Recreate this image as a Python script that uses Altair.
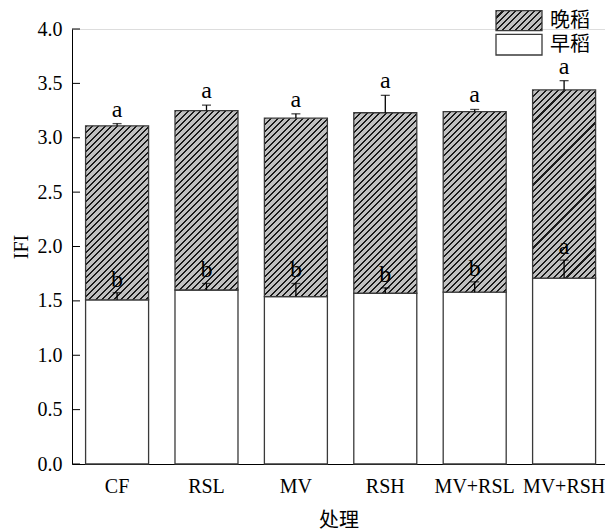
import altair as alt
import pandas as pd

# ---------------- data ----------------
treatments = ["CF", "RSL", "MV", "RSH", "MV+RSL", "MV+RSH"]
early = [1.51, 1.60, 1.54, 1.57, 1.58, 1.71]        # 早稻
late = [1.60, 1.65, 1.64, 1.66, 1.66, 1.73]         # 晚稻 (stacked on top)
early_err = [0.065, 0.06, 0.12, 0.05, 0.095, 0.165]
total_err = [0.02, 0.05, 0.04, 0.16, 0.02, 0.085]
early_letters = ["b", "b", "b", "b", "b", "a"]
late_letters = ["a", "a", "a", "a", "a", "a"]
y_ticks = [0.0, 0.5, 1.0, 1.5, 2.0, 2.5, 3.0, 3.5, 4.0]
legend_labels = ["晚稻", "早稻"]
x_title = "处理"
y_title = "IFI"

df = pd.DataFrame({
    "treat": treatments, "early": early, "late": late,
    "early_err": early_err, "total_err": total_err,
    "el": early_letters, "ll": late_letters,
})
df["total"] = df["early"] + df["late"]
df["early_top"] = df["early"] + df["early_err"]
df["total_top"] = df["total"] + df["total_err"]

# ---------------- layout / style ----------------
W, H = 533, 435
YMAX = 4.0
PI, PO, AL = 0.2953, 0.1286, 0.591
step = W / (len(treatments) - PI + 2 * PO)
bw = step * (1 - PI)
SERIF = "Liberation Serif, Noto Sans CJK SC"
STROKE = "#3a3a3a"


def hatch(w, h, period=6.3, frac=0.32, bg="#c0c0c0", fg="#1a1a1a"):
    """45-degree hatch as a linear gradient in bounding-box units."""
    k = (w + h) * w * h / (w * w + h * h)
    n = (w + h) / period
    stops = []
    i = 0
    while i < n:
        a = i / n
        b = min((i + frac) / n, 1.0)
        c = min((i + 1) / n, 1.0)
        stops += [{"offset": a, "color": fg}, {"offset": b, "color": fg},
                  {"offset": b, "color": bg}, {"offset": c, "color": bg}]
        i += 1
    return {"gradient": "linear", "x1": 0, "y1": 0, "x2": k / h, "y2": k / w,
            "stops": stops}


xenc = alt.X(
    "treat:N", sort=treatments, title=x_title,
    scale=alt.Scale(paddingInner=PI, paddingOuter=PO, align=AL),
    axis=alt.Axis(labelAngle=0, ticks=False, tickSize=0, labelPadding=12,
                  titlePadding=14, domainColor="black", domainWidth=1,
                  labelFontSize=20, titleFontSize=20, labelFont=SERIF,
                  titleFont=SERIF, titleFontWeight="normal",
                  labelColor="black", titleColor="black"),
)
yscale = alt.Scale(domain=[0, YMAX], nice=False, zero=True)
yaxis = alt.Axis(values=y_ticks, format=".1f", ticks=False, tickSize=0,
                 labelPadding=10, titlePadding=6, grid=False,
                 domainColor="black", domainWidth=1, labelFontSize=20,
                 titleFontSize=20, labelFont=SERIF, titleFont=SERIF,
                 titleFontWeight="normal", labelColor="black",
                 titleColor="black")


def Y(field):
    return alt.Y(field, type="quantitative", scale=yscale, axis=yaxis,
                 title=y_title)


base = alt.Chart(df)
layers = []

# early rice bars (white)
layers.append(base.mark_bar(fill="white", stroke=STROKE, strokeWidth=1.3)
              .encode(x=xenc, y=Y("early")))

# late rice bars (hatched), one layer per bar so the hatch is at 45 degrees
for i, t in enumerate(treatments):
    h = late[i] * H / YMAX
    layers.append(base.transform_filter(alt.datum.treat == t)
                  .mark_bar(fill=hatch(bw, h), stroke=STROKE, strokeWidth=1.3)
                  .encode(x=xenc, y=Y("early"), y2="total"))

# error bars
for lo, hi in [("early", "early_top"), ("total", "total_top")]:
    layers.append(base.mark_rule(color="black", strokeWidth=1.3)
                  .encode(x=xenc, y=Y(lo), y2=hi))
    layers.append(base.mark_tick(color="black", size=9, thickness=1.3)
                  .encode(x=xenc, y=Y(hi)))

# significance letters
for top, lab, dy in [("early_top", "el", -6), ("total_top", "ll", -7)]:
    layers.append(base.mark_text(font=SERIF, fontSize=24, color="black",
                                 baseline="alphabetic", dy=dy)
                  .encode(x=xenc, y=Y(top), text=f"{lab}:N"))

# inward y ticks
tick_df = pd.DataFrame({"v": y_ticks})
layers.append(alt.Chart(tick_df).mark_rule(color="black", strokeWidth=1)
              .encode(y=Y("v"), x=alt.value(0), x2=alt.value(8)))

# legend (drawn manually, top right)
leg_df = pd.DataFrame({"label": legend_labels})
LX0, LX1 = 424, 470
layers.append(alt.Chart(leg_df).transform_filter(alt.datum.label == legend_labels[0])
              .mark_rect(fill=hatch(LX1 - LX0, 20), stroke=STROKE, strokeWidth=1.3)
              .encode(x=alt.value(LX0), x2=alt.value(LX1),
                      y=alt.value(-18.3), y2=alt.value(1.7)))
layers.append(alt.Chart(leg_df).transform_filter(alt.datum.label == legend_labels[1])
              .mark_rect(fill="white", stroke=STROKE, strokeWidth=1.3)
              .encode(x=alt.value(LX0), x2=alt.value(LX1),
                      y=alt.value(5.3), y2=alt.value(26)))
for lab, yy in zip(legend_labels, [-8.3, 15.7]):
    layers.append(alt.Chart(leg_df).transform_filter(alt.datum.label == lab)
                  .mark_text(font=SERIF, fontSize=20, color="black",
                             align="left", baseline="middle")
                  .encode(x=alt.value(LX1 + 8), y=alt.value(yy), text="label:N"))

chart = (alt.layer(*layers)
         .properties(width=W, height=H,
                     padding={"left": 3, "top": 2, "right": 0, "bottom": 0})
         .configure_view(stroke=None)
         .configure(background="white"))

chart.save("out.html", embed_options={"renderer": "svg", "actions": False})
